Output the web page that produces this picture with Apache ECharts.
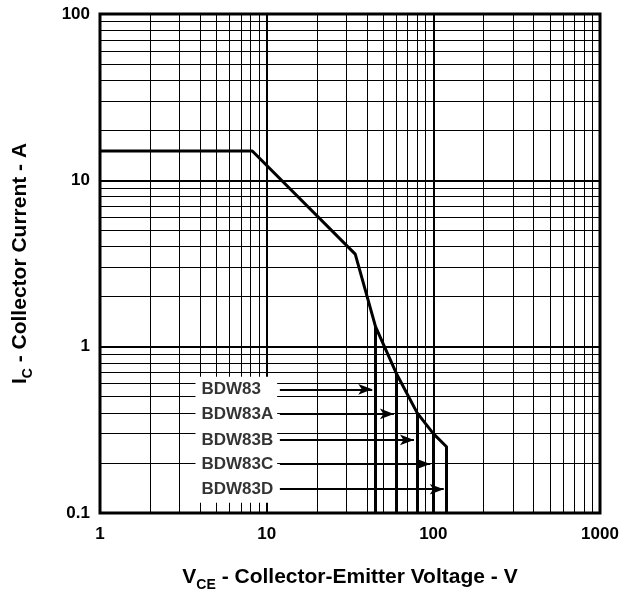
<!DOCTYPE html>
<html>
<head>
<meta charset="utf-8">
<script src="https://cdn.jsdelivr.net/npm/echarts@6/dist/echarts.min.js"></script>
<style>
  html, body { margin: 0; padding: 0; background: #fff; }
  #chart { width: 619px; height: 594px; }
</style>
</head>
<body>
<div id="chart"></div>
<script>
// safe operating area curve (V, A)
var curveVoltage = [1, 8.2, 34, 45, 60, 80, 100, 120];
var curveCurrent = [15, 15, 3.6, 1.32, 0.69, 0.4, 0.3, 0.25];

// device ratings: vertical lines drop from the curve to the axis
var deviceNames = ['BDW83', 'BDW83A', 'BDW83B', 'BDW83C', 'BDW83D'];
var deviceVoltage = [45, 60, 80, 100, 120];
var deviceCurrent = [1.32, 0.69, 0.4, 0.3, 0.25];

// label arrows: level, start and tip
var arrowCurrent = [0.554, 0.394, 0.275, 0.197, 0.139];
var arrowStart = 12;
var arrowTip = [43, 58, 76.5, 96, 115.5];
var labelVoltage = 4.06;

var xMajor = [10, 100];
var yMajor = [1, 10];
var mantissa = [2, 3, 4, 5, 6, 7, 8, 9];

var xMinor = [];
[1, 10, 100].forEach(function (d) {
  mantissa.forEach(function (m) { xMinor.push(m * d); });
});
var yMinor = [];
[0.1, 1, 10].forEach(function (d) {
  mantissa.forEach(function (m) { yMinor.push(+(m * d).toPrecision(3)); });
});

var font = "'Liberation Sans', Arial, sans-serif";

var chart = echarts.init(document.getElementById('chart'));

var gridLines = [];
xMinor.forEach(function (v) { gridLines.push({ xAxis: v }); });
yMinor.forEach(function (v) { gridLines.push({ yAxis: v }); });
xMajor.forEach(function (v) { gridLines.push({ xAxis: v, lineStyle: { width: 2 } }); });
yMajor.forEach(function (v) { gridLines.push({ yAxis: v, lineStyle: { width: 2 } }); });

var curveData = curveVoltage.map(function (v, i) { return [v, curveCurrent[i]]; });
curveData.push([curveVoltage[curveVoltage.length - 1], 0.1]);

var ratingLines = deviceVoltage.slice(0, 4).map(function (v, i) {
  return [{ coord: [v, 0.1] }, { coord: [v, deviceCurrent[i]] }];
});

var arrows = deviceNames.map(function (n, i) {
  return [{ coord: [arrowStart, arrowCurrent[i]] }, { coord: [arrowTip[i], arrowCurrent[i]] }];
});

var labelData = deviceNames.map(function (n, i) {
  return { name: n, value: [labelVoltage, arrowCurrent[i]] };
});

var titleRich = {
  b: { fontFamily: font, fontWeight: 'bold', fontSize: 21, color: '#000', lineHeight: 24 },
  s: { fontFamily: font, fontWeight: 'bold', fontSize: 14, color: '#000', lineHeight: 24, padding: [16, 0, 0, 0] }
};

var option = {
  animation: false,
  grid: {
    left: 100, top: 14, width: 500, height: 499,
    outerBoundsMode: 'none', containLabel: false,
    show: true, borderColor: '#000', borderWidth: 3, backgroundColor: '#fff'
  },
  xAxis: {
    type: 'log', logBase: 10, min: 1, max: 1000,
    axisLine: { show: false }, axisTick: { show: false }, splitLine: { show: false },
    axisLabel: {
      margin: 13, color: '#000', fontFamily: font, fontWeight: 'bold', fontSize: 17,
      showMaxLabel: true, showMinLabel: true,
      formatter: function (v) { return String(+v.toPrecision(3)); }
    },
    name: '{b|V}{s|CE}{b| - Collector-Emitter Voltage - V}',
    nameLocation: 'middle', nameGap: 52,
    nameTextStyle: { rich: titleRich }
  },
  yAxis: {
    type: 'log', logBase: 10, min: 0.1, max: 100,
    axisLine: { show: false }, axisTick: { show: false }, splitLine: { show: false },
    axisLabel: {
      margin: 10, color: '#000', fontFamily: font, fontWeight: 'bold', fontSize: 17,
      formatter: function (v) { return String(+v.toPrecision(3)); }
    },
    name: '{b|I}{s|C}{b| - Collector Current - A}',
    nameLocation: 'middle', nameGap: 68, nameRotate: 90,
    nameTextStyle: { rich: titleRich }
  },
  series: [
    {
      // grid
      type: 'line', data: [], z: 1, silent: true,
      markLine: {
        z: 1, silent: true, symbol: 'none', label: { show: false },
        lineStyle: { color: '#000', width: 1, type: 'solid' },
        data: gridLines
      }
    },
    {
      // device labels with white box behind them
      type: 'scatter', data: labelData, z: 3, symbolSize: 0, silent: true,
      label: {
        show: true, position: 'right', distance: 0, formatter: '{b}',
        fontFamily: font, fontWeight: 'bold', fontSize: 17, color: '#000'
      },
      markArea: {
        z: 2, silent: true, itemStyle: { color: '#fff', opacity: 1 },
        data: [[{ coord: [3.74, 0.66] }, { coord: [11.56, 0.1153] }]]
      }
    },
    {
      // arrows
      type: 'line', data: [], z: 4, silent: true,
      markLine: {
        z: 4, silent: true, symbol: ['none', 'arrow'], symbolSize: [8, 14],
        label: { show: false },
        lineStyle: { color: '#000', width: 2, type: 'solid' },
        data: arrows
      }
    },
    {
      type: 'line', data: curveData, z: 5, symbol: 'none', silent: true,
      lineStyle: { color: '#000', width: 3 },
      markLine: {
        z: 5, silent: true, symbol: 'none', label: { show: false },
        lineStyle: { color: '#000', width: 3, type: 'solid' },
        data: ratingLines
      }
    }
  ]
};

chart.setOption(option);
</script>
</body>
</html>
